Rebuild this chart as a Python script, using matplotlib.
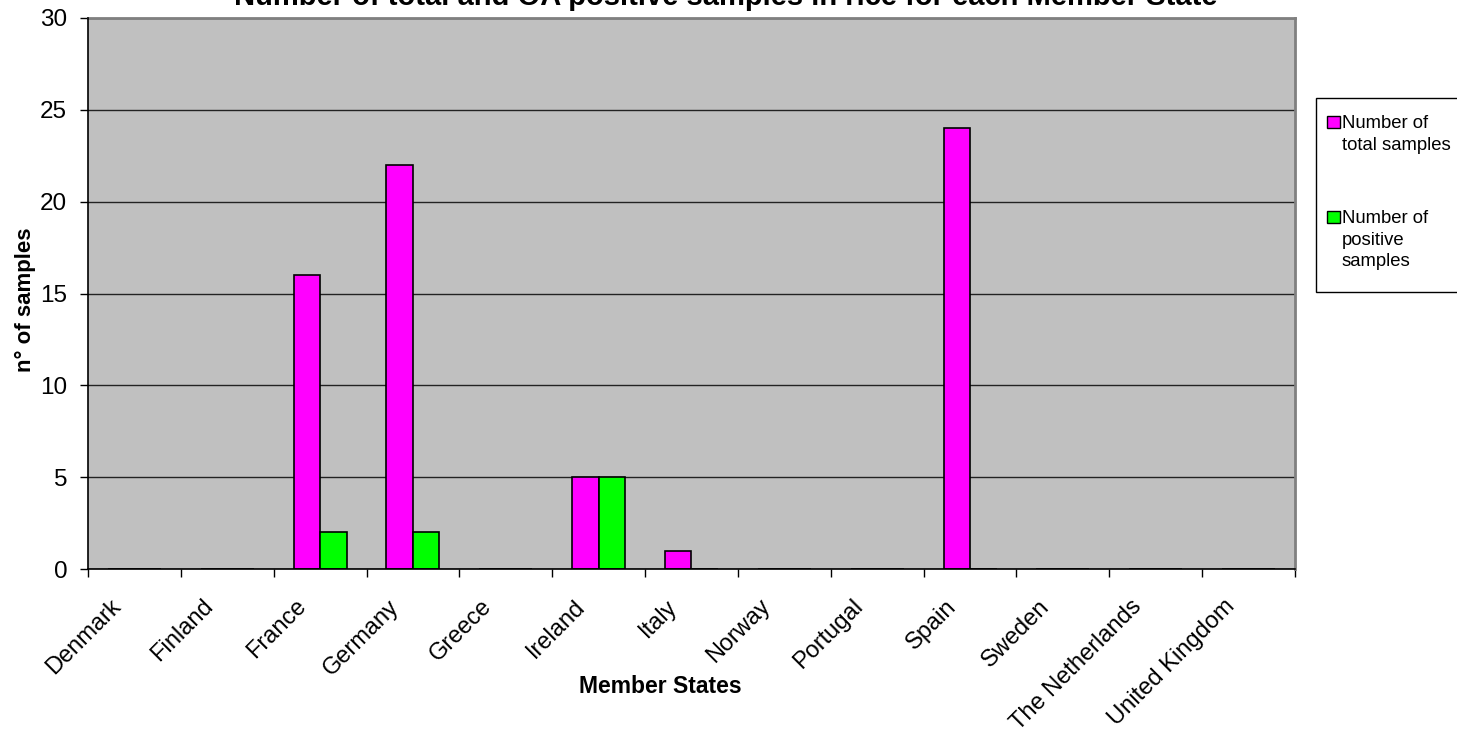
import numpy as np
import matplotlib
matplotlib.use('Agg')
import matplotlib.pyplot as plt
from matplotlib.patches import Rectangle
from matplotlib.transforms import ScaledTranslation

plt.rcParams['font.family'] = ['Liberation Sans', 'DejaVu Sans']

# Data
countries = ['Denmark', 'Finland', 'France', 'Germany', 'Greece', 'Ireland', 'Italy',
             'Norway', 'Portugal', 'Spain', 'Sweden', 'The Netherlands', 'United Kingdom']
total_samples = [0, 0, 16, 22, 0, 5, 1, 0, 0, 24, 0, 0, 0]
positive_samples = [0, 0, 2, 2, 0, 5, 0, 0, 0, 0, 0, 0, 0]
y_ticks = [0, 5, 10, 15, 20, 25, 30]

title = 'Number of total and OA positive samples in rice for each Member State'
series_labels = ['Number of\ntotal samples', 'Number of\npositive\nsamples']
series_colors = ['#FF00FF', '#00FF00']

W, H = 1457, 741
fig = plt.figure(figsize=(W / 100, H / 100), dpi=100)
ax = fig.add_axes([88 / W, 1 - 569 / H, (1295 - 88) / W, (569 - 18) / H])
ax.set_facecolor('#C0C0C0')

n = len(countries)
centers = np.arange(n) + 0.5
bw = 1 / 3.5  # Excel gap width 150%

ax.bar(centers - bw / 2, total_samples, width=bw, color=series_colors[0],
       edgecolor='black', linewidth=1.2, zorder=3)
ax.bar(centers + bw / 2, positive_samples, width=bw, color=series_colors[1],
       edgecolor='black', linewidth=1.2, zorder=3)

ax.set_xlim(0, n)
ax.set_ylim(0, 30)
ax.set_yticks(y_ticks)
ax.yaxis.grid(True, color='#222222', linewidth=1.0, zorder=1)
ax.set_axisbelow(True)

# category boundary ticks (major) and labels at centers (minor)
ax.set_xticks(np.arange(n + 1))
ax.set_xticklabels([])
ax.set_xticks(centers, countries, minor=True)
ax.tick_params(axis='x', which='major', direction='out', length=6, width=1)
ax.tick_params(axis='x', which='minor', length=0, pad=19, labelsize=17)
ax.tick_params(axis='y', direction='out', length=6, width=1, pad=9, labelsize=17.5)

shift = ScaledTranslation(-25 / 100, 0, fig.dpi_scale_trans)
for lab in ax.get_xticklabels(minor=True):
    lab.set_rotation(45)
    lab.set_ha('right')
    lab.set_va('top')
    lab.set_rotation_mode('anchor')
    lab.set_transform(lab.get_transform() + shift)

for s in ['left', 'bottom']:
    ax.spines[s].set_color('black')
    ax.spines[s].set_linewidth(1.2)
for s in ['top', 'right']:
    ax.spines[s].set_color('#808080')
    ax.spines[s].set_linewidth(2)
ax.spines['left'].set_zorder(4)
ax.spines['bottom'].set_zorder(4)

fig.text(726 / W, 1 - 5 / H, title, ha='center', va='baseline',
         fontsize=21, fontweight='bold')
fig.text(25 / W, 1 - 300 / H, 'n° of samples', rotation=90, ha='center', va='center',
         fontsize=16, fontweight='bold')
fig.text(660 / W, 1 - 693 / H, 'Member States', ha='center', va='baseline',
         fontsize=16.5, fontweight='bold')

# legend drawn by hand so the key square sits beside the first line (Excel style)
fig.patches.append(Rectangle((1316 / W, 1 - 292 / H), 160 / W, 194 / H,
                             transform=fig.transFigure, facecolor='white',
                             edgecolor='black', linewidth=1.0))
first_baselines = [128, 223]
line_px = 21.5
for lbl, col, yb in zip(series_labels, series_colors, first_baselines):
    fig.patches.append(Rectangle((1327 / W, 1 - yb / H), 13 / W, 12 / H,
                                 transform=fig.transFigure, facecolor=col,
                                 edgecolor='black', linewidth=1.0))
    # baseline alignment in matplotlib uses the last line of the text
    last = yb + (lbl.count('\n')) * line_px
    fig.text(1342 / W, 1 - last / H, lbl, ha='left', va='baseline',
             fontsize=13.3, linespacing=1.33)

fig.savefig('out.png', dpi=100)
